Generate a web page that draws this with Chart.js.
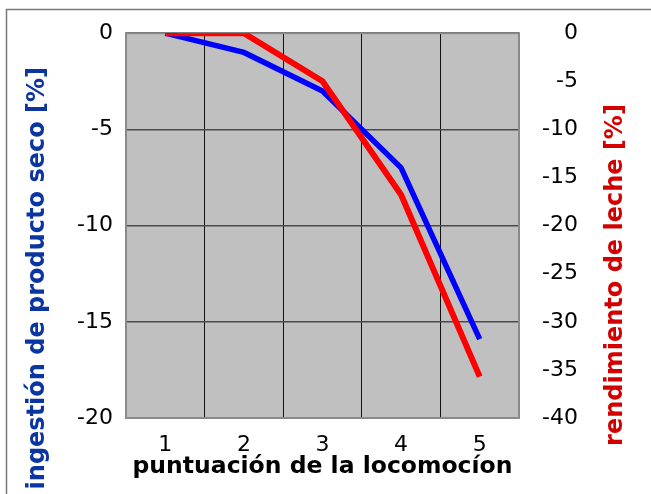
<!DOCTYPE html>
<html lang="es">
<head>
<meta charset="UTF-8">
<title>Locomoción vs ingestión y rendimiento</title>
<script src="https://cdn.jsdelivr.net/npm/chart.js@4.4.4/dist/chart.umd.min.js"></script>
</head>
<body style="margin:0; background:#fff;">
<div style="width:651px; height:494px;">
    <canvas id="chart" width="651" height="494"></canvas>
</div>
<script>
    // datos
    const categorias = ['1', '2', '3', '4', '5'];
    const ingestion = [0, -1, -3, -7, -15.9];         // eje izquierdo [%]
    const rendimiento = [0, 0, -5, -16.8, -35.7];     // eje derecho [%]
    const ticksIzq = [0, -5, -10, -15, -20];
    const ticksDer = [0, -5, -10, -15, -20, -25, -30, -35, -40];

    const tituloX = 'puntuación de la locomocíon';
    const tituloIzq = 'ingestión de producto seco [%]';
    const tituloDer = 'rendimiento de leche [%]';

    const FONT = "'DejaVu Sans', Verdana, sans-serif";

    // fondo gris, borde del área y títulos verticales
    const decoracion = {
        id: 'decoracion',
        beforeDraw(chart) {
            const ctx = chart.ctx;
            const a = chart.chartArea;
            ctx.save();
            ctx.fillStyle = '#fff';
            ctx.fillRect(0, 0, chart.width, chart.height);
            // marco exterior
            ctx.strokeStyle = '#7a7a7a';
            ctx.lineWidth = 1.5;
            ctx.beginPath();
            ctx.moveTo(6.5, chart.height + 5);
            ctx.lineTo(6.5, 9.5);
            ctx.lineTo(chart.width + 5, 9.5);
            ctx.stroke();
            ctx.fillStyle = '#c0c0c0';
            ctx.fillRect(a.left, a.top, a.right - a.left, a.bottom - a.top);
            ctx.restore();
        },
        beforeDatasetsDraw(chart) {
            const ctx = chart.ctx;
            const a = chart.chartArea;
            ctx.save();
            ctx.strokeStyle = '#8a8a8a';
            ctx.lineWidth = 2;
            ctx.strokeRect(a.left, a.top, a.right - a.left, a.bottom - a.top);
            ctx.restore();
        },
        afterDraw(chart) {
            const ctx = chart.ctx;
            ctx.save();
            ctx.font = 'bold 24px ' + FONT;
            ctx.textBaseline = 'middle';
            // izquierda
            ctx.translate(38, 67);
            ctx.rotate(-Math.PI / 2);
            ctx.textAlign = 'right';
            ctx.fillStyle = '#0b35a0';
            ctx.fillText(tituloIzq, 0, 0);
            ctx.restore();
            ctx.save();
            ctx.font = 'bold 24px ' + FONT;
            ctx.textBaseline = 'middle';
            ctx.translate(616, 275);
            ctx.rotate(-Math.PI / 2);
            ctx.textAlign = 'center';
            ctx.fillStyle = '#d40000';
            ctx.fillText(tituloDer, 0, 0);
            ctx.restore();
        }
    };

    const ctx = document.getElementById('chart').getContext('2d');
    new Chart(ctx, {
        type: 'line',
        data: {
            labels: categorias,
            datasets: [
                {
                    label: 'rendimiento de leche',
                    data: rendimiento,
                    yAxisID: 'y1',
                    borderColor: '#ff0000',
                    borderWidth: 6,
                    pointRadius: 0,
                    tension: 0,
                    order: 0
                },
                {
                    label: 'ingestión de producto seco',
                    data: ingestion,
                    yAxisID: 'y',
                    borderColor: '#0000ff',
                    borderWidth: 5.5,
                    pointRadius: 0,
                    tension: 0,
                    order: 1
                }
            ]
        },
        options: {
            responsive: false,
            animation: false,
            layout: { padding: { top: 31, left: 0, right: 73, bottom: 0 } },
            plugins: { legend: { display: false }, tooltip: { enabled: false } },
            scales: {
                x: {
                    offset: true,
                    grid: { offset: true, color: '#111', lineWidth: 1, drawTicks: false },
                    border: { display: false },
                    ticks: { color: '#000', padding: 14, font: { family: FONT, size: 22 } },
                    title: {
                        display: true, text: tituloX, color: '#000',
                        padding: { top: 0, bottom: 13 },
                        font: { family: FONT, size: 23.5, weight: 'bold' }
                    },
                    afterFit(s) { s.height = 76; }
                },
                y: {
                    position: 'left',
                    min: -20, max: 0,
                    afterBuildTicks(s) { s.ticks = ticksIzq.map(v => ({ value: v })); },
                    grid: { color: '#4a4a4a', lineWidth: 1.5, drawTicks: false },
                    border: { display: false },
                    ticks: { color: '#000', padding: 13, font: { family: FONT, size: 22 } },
                    afterFit(s) { s.width = 126; }
                },
                y1: {
                    position: 'right',
                    min: -40, max: 0,
                    afterBuildTicks(s) { s.ticks = ticksDer.map(v => ({ value: v })); },
                    grid: { display: false, drawTicks: false },
                    border: { display: false },
                    ticks: { color: '#000', padding: 20, crossAlign: 'far', font: { family: FONT, size: 22 } },
                    afterFit(s) { s.width = 59; }
                }
            }
        },
        plugins: [decoracion]
    });
</script>
</body>
</html>
